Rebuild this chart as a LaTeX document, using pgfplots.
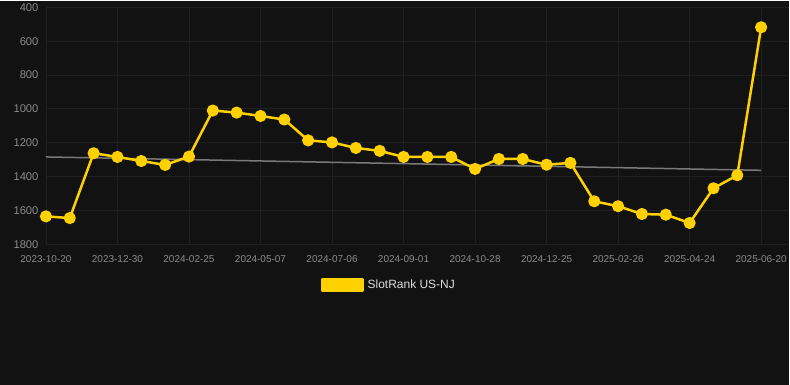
\documentclass[border=0pt]{standalone}
\usepackage{pgfplots}
\pgfplotsset{compat=1.18}
\usepackage{fontspec}
\setmainfont{Liberation Sans}
\definecolor{bg}{HTML}{121212}
\definecolor{gridc}{HTML}{1F1F1F}
\definecolor{tickc}{HTML}{8C8C8C}
\definecolor{lineyel}{HTML}{FFD100}
\definecolor{trendc}{HTML}{7A7A7A}
\definecolor{legtext}{HTML}{DDDDDD}
\begin{document}
\begin{tikzpicture}[x=1pt,y=1pt]
\fill[bg] (-46,-140.7) rectangle (744,243.3);
\begin{axis}[
  at={(0,0)}, anchor=south west,
  scale only axis, width=744pt, height=237.3pt,
  xmin=0, xmax=31.17,
  ymin=400, ymax=1800, y dir=reverse,
  ytick={400,600,...,1800},
  xtick={0,3,...,30},
  xticklabels={2023-10-20,2023-12-30,2024-02-25,2024-05-07,2024-07-06,2024-09-01,2024-10-28,2024-12-25,2025-02-26,2025-04-24,2025-06-20},
  grid=major,
  major grid style={gridc, line width=0.8pt},
  axis line style={draw=none},
  major tick length=0pt,
  /pgf/number format/assume math mode=true,
  /pgf/number format/1000 sep={},
  yticklabel style={font=\fontsize{11.2}{13}\selectfont, text=tickc, anchor=east, xshift=-4pt},
  xticklabel style={font=\fontsize{10}{12}\selectfont, text=tickc, anchor=center, yshift=-15pt},
  clip=false,
  legend style={at={(0.4617,-0.1715)}, anchor=center, draw=none, fill=none,
    font=\fontsize{12}{14}\selectfont, text=legtext, column sep=2pt},
  legend cell align=left,
]
\addplot[trendc, line width=1.5pt, forget plot] coordinates {(0,1284) (30,1363)};
\addplot[lineyel, line width=2.5pt, line join=round, mark=*, mark size=4.8pt, mark options={solid, fill=lineyel, draw=none},
  legend image code/.code={\fill[lineyel] (0pt,-6pt) rectangle (40pt,6pt);}]
coordinates {
(0,1635) (1,1645) (2,1262) (3,1284) (4,1308) (5,1331) (6,1282) (7,1010) (8,1022) (9,1042)
(10,1063) (11,1186) (12,1198) (13,1231) (14,1248) (15,1284) (16,1284) (17,1284) (18,1355) (19,1296)
(20,1296) (21,1330) (22,1319) (23,1546) (24,1575) (25,1621) (26,1625) (27,1674) (28,1469) (29,1392)
(30,518)
};
\addlegendentry{SlotRank US-NJ}
\end{axis}
\end{tikzpicture}
\end{document}
